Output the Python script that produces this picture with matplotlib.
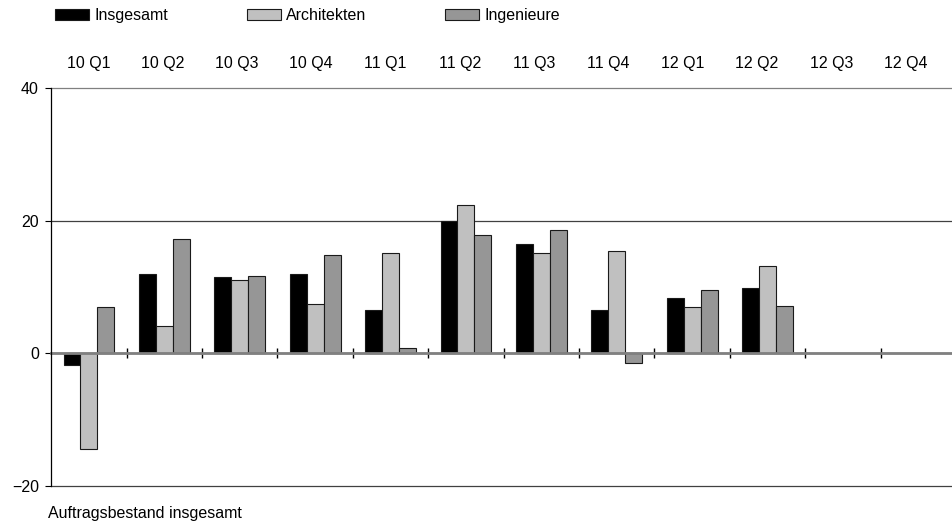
"""Auftragsbestand: quarterly bar chart for Insgesamt, Architekten, Ingenieure."""

import numpy as np
import matplotlib.pyplot as plt
from matplotlib.patches import Patch

quarters = ['10 Q1', '10 Q2', '10 Q3', '10 Q4', '11 Q1', '11 Q2',
            '11 Q3', '11 Q4', '12 Q1', '12 Q2', '12 Q3', '12 Q4']
insgesamt = [-1.7, 12.0, 11.5, 11.9, 6.6, 19.9, 16.5, 6.5, 8.4, 9.8, np.nan, np.nan]
architekten = [-14.4, 4.1, 11.0, 7.4, 15.1, 22.3, 15.1, 15.4, 7.0, 13.2, np.nan, np.nan]
ingenieure = [7.0, 17.3, 11.7, 14.8, 0.8, 17.9, 18.6, -1.5, 9.5, 7.2, np.nan, np.nan]

series = [('Insgesamt', insgesamt, '#000000'),
          ('Architekten', architekten, '#c0c0c0'),
          ('Ingenieure', ingenieure, '#969696')]

plt.rcParams['font.family'] = ['Liberation Sans', 'DejaVu Sans']
plt.rcParams['font.size'] = 11.5

fig = plt.figure(figsize=(9.53, 5.30), dpi=100)
ax = fig.add_axes([0.0538, 0.083, 0.9494, 0.751])

x = np.arange(len(quarters))
width = 0.225
for i, (name, vals, col) in enumerate(series):
    ax.bar(x + (i - 1) * width, vals, width, color=col,
           edgecolor='#1a1a1a', linewidth=0.8, zorder=3)

ax.set_xlim(-0.5, len(quarters) - 0.5)
ax.set_ylim(-20, 40)
ax.set_yticks([-20, 0, 20, 40])
ax.set_yticklabels(['\u221220', '0', '20', '40'])
for gl in ax.get_yticks():
    gcol = '#808080' if gl == 40 else '#404040'
    ax.axhline(gl, color=gcol, linewidth=0.9, zorder=0, clip_on=False)
ax.tick_params(axis='y', length=4, width=0.8, color='black', pad=5)

# boundary ticks on the zero line
ax.spines['bottom'].set_position(('data', 0))
ax.spines['bottom'].set_color('#808080')
ax.spines['bottom'].set_linewidth(2)
ax.spines['bottom'].set_zorder(4)
ax.spines['top'].set_visible(False)
ax.spines['right'].set_visible(False)
ax.spines['left'].set_linewidth(0.9)
ax.spines['left'].set_zorder(5)
ax.set_xticks([])
ax.set_xticks(np.arange(0.5, len(quarters) - 0.5), minor=True)
ax.tick_params(axis='x', which='minor', direction='inout', length=7,
               width=1, color='black', top=False, bottom=True)

# quarter labels along the top (spaced a bit tighter than the bars)
ax2 = ax.twiny()
ax2.set_xlim(-0.5, 11.68)
ax2.set_xticks(x)
ax2.set_xticklabels(quarters)
ax2.tick_params(axis='x', length=0, pad=12)
for s in ax2.spines.values():
    s.set_visible(False)

handles = [Patch(facecolor=c, edgecolor='#1a1a1a', linewidth=0.8, label=n)
           for n, _, c in series]
fig.legend(handles=handles, loc='upper left', bbox_to_anchor=(0.0427, 1.012),
           ncol=3, frameon=False, handlelength=2.1, handleheight=0.65,
           handletextpad=0.35, columnspacing=4.95, fontsize=11.5)

fig.text(0.05, 0.022, 'Auftragsbestand insgesamt', fontsize=11.5)

fig.savefig('out.png', dpi=100)
